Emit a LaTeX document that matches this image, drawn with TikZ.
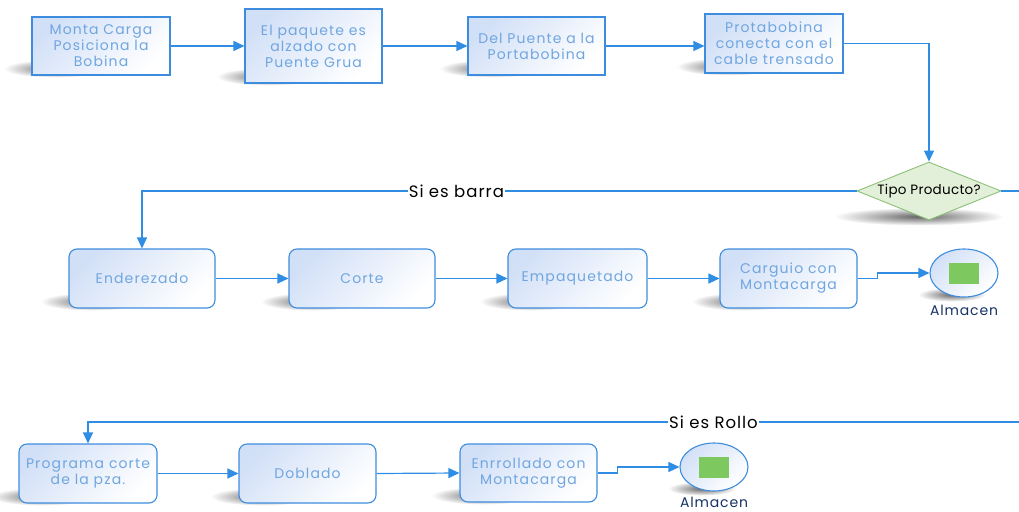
\documentclass[tikz,border=0pt]{standalone}
\usepackage{fontspec}
\setmainfont{Poppins}
\newfontfamily\boxfont[LetterSpace=8]{Poppins}
\newfontfamily\labfont[LetterSpace=6]{Poppins}
\newfontfamily\diafont[LetterSpace=2]{Poppins}
\usetikzlibrary{arrows.meta,shapes.geometric}
\pgfdeclarelayer{bg}
\pgfsetlayers{bg,main}
\definecolor{lineblue}{RGB}{47,141,228}
\definecolor{boxborder}{RGB}{62,140,222}
\definecolor{boxfill}{RGB}{210,224,247}
\definecolor{boxtext}{RGB}{112,166,224}
\definecolor{dgreen}{RGB}{226,240,217}
\definecolor{dborder}{RGB}{140,192,120}
\definecolor{sq}{RGB}{126,200,96}
\definecolor{navy}{RGB}{22,50,100}
\tikzset{
  boxbase/.style={draw=boxborder, line width=1.1pt, top color=boxfill, bottom color=white, shading angle=45,
    align=center, text=boxtext, font=\boxfont\fontsize{14}{16}\selectfont, inner sep=0pt},
  sqbox/.style={boxbase},
  rbox/.style={boxbase, rounded corners=8pt},
  arr/.style={draw=lineblue, line width=1.2pt, -{Triangle[length=11pt,width=10pt]}},
  lab/.style={fill=white, inner sep=1pt, text=black, font=\labfont\fontsize{16.5}{18}\selectfont},
  shd/.style={inner color=black!60, outer color=white},
  almbox/.style={ellipse, draw=boxborder, line width=1.1pt, top color=boxfill, bottom color=white, shading angle=45,
    minimum width=68pt, minimum height=48pt, inner sep=0pt},
  greensq/.style={fill=sq, minimum width=30pt, minimum height=21pt, inner sep=0pt},
  almlab/.style={text=navy, font=\labfont\fontsize{14}{15}\selectfont}
}
\begin{document}
\begin{tikzpicture}[x=1pt,y=-1pt]
\path[use as bounding box, clip] (0,0) rectangle (1019,511);
% top row
\node[sqbox, minimum width=138pt, minimum height=58pt] (b1) at (101,46) {Monta Carga\\Posiciona la\\Bobina};
\node[sqbox, minimum width=137pt, minimum height=74pt] (b2) at (313.5,46) {El paquete es\\alzado con\\Puente Grua};
\node[sqbox, minimum width=137pt, minimum height=58pt] (b3) at (536.5,46) {Del Puente a la\\Portabobina};
\node[sqbox, minimum width=138pt, minimum height=59pt] (b4) at (774,43.5) {Protabobina\\conecta con el\\cable trensado};
% decision
\node[diamond, aspect=2.5, draw=dborder, fill=dgreen, line width=0.9pt, minimum width=144pt, minimum height=58pt, inner sep=0pt,
  font=\diafont\fontsize{13.5}{14}\selectfont] (dia) at (929,191) {Tipo Producto?};
% middle row
\node[rbox, minimum width=146pt, minimum height=59pt] (r1) at (142,278.5) {Enderezado};
\node[rbox, minimum width=146pt, minimum height=59pt] (r2) at (362,278.5) {Corte};
\node[rbox, minimum width=139pt, minimum height=59pt] (r3) at (577.5,278.5) {Empaquetado};
\node[rbox, minimum width=137pt, minimum height=59pt] (r4) at (788.5,278.5) {Carguio con\\Montacarga};
\node[almbox] (a1) at (964,273) {};
\node[greensq] (g1) at (a1.center) {};
\node[almlab] (l1) at (964,310) {Almacen};
% bottom row
\node[rbox, minimum width=138pt, minimum height=59pt] (p1) at (88,473.5) {Programa corte\\de la pza.};
\node[rbox, minimum width=137pt, minimum height=59pt] (p2) at (307.5,473.5) {Doblado};
\node[rbox, minimum width=137pt, minimum height=58pt] (p3) at (528.5,473) {Enrrollado con\\Montacarga};
\node[almbox] (a2) at (714,467) {};
\node[greensq] (g2) at (a2.center) {};
\node[almlab] (l2) at (714,502) {Almacen};
% shadows
\begin{pgfonlayer}{bg}
\foreach \n in {b1,b2,b3,b4,r1,r2,r3,r4,p1,p2,p3}{
  \shade[shd] ([shift={(24,-7)}]\n.south west) ellipse [x radius=52pt, y radius=9pt];
}
\shade[shd] ([shift={(-10,-4)}]dia.south) ellipse [x radius=85pt, y radius=9pt];
\foreach \n in {a1,a2}{
  \shade[shd] ([shift={(-12,-3)}]\n.south) ellipse [x radius=34pt, y radius=7pt];
}
\end{pgfonlayer}
% connectors
\draw[arr] (b1.east) -- (b2.west);
\draw[arr] (b2.east) -- (b3.west);
\draw[arr] (b3.east) -- (b3.east -| b4.west);
\draw[arr] (b4.east) -| (dia.north);
\draw[arr] (dia.west) -| node[lab, pos=0.28] {Si es barra} (r1.north);
\draw[arr] (r1.east) -- (r2.west);
\draw[arr] (r2.east) -- (r3.west);
\draw[arr] (r3.east) -- (r4.west);
\draw[arr] (r4.east) -- ++(20,0) |- (a1.west);
\coordinate (rA) at (1030,191);
\coordinate (rB) at (1030,422);
\draw[arr] (dia.east) -- (rA) -- (rB) -| node[lab, pos=0.168] {Si es Rollo} (p1.north);
\draw[arr] (p1.east) -- (p2.west);
\draw[arr] (p2.east) -- (p3.west);
\draw[arr] (p3.east) -- ++(20,0) |- (a2.west);
\end{tikzpicture}
\end{document}
